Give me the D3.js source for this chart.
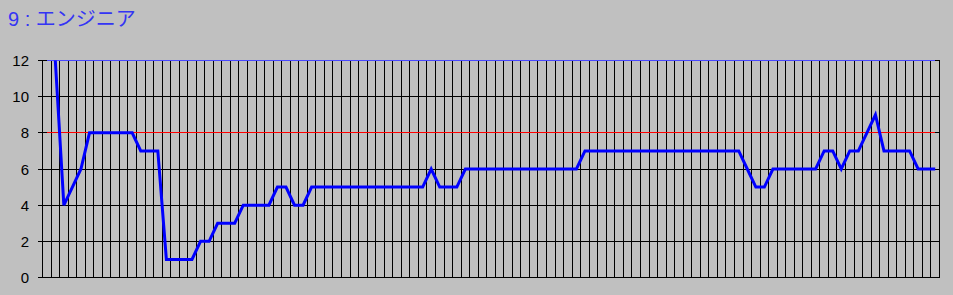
<!DOCTYPE html>
<html><head><meta charset="utf-8">
<script src="https://cdn.jsdelivr.net/npm/d3@7"></script>
<style>
html,body{margin:0;padding:0;background:#c0c0c0;}
svg{display:block;}
</style></head>
<body>
<svg id="chart" width="953" height="295"></svg>
<script>
const titleNumber = "9 : ";
const titleName = "エンジニア";
const yTicks = [0, 2, 4, 6, 8, 10, 12];
const values = [
  null, 12, 4, 5, 6, 8, 8, 8, 8, 8, 8,
  7, 7, 7, 1, 1, 1, 1, 2, 2, 3, 3, 3,
  4, 4, 4, 4, 5, 5, 4, 4,
  5, 5, 5, 5, 5, 5, 5, 5, 5, 5, 5, 5, 5, 5,
  6, 5, 5, 5,
  6, 6, 6, 6, 6, 6, 6, 6, 6, 6, 6, 6, 6, 6,
  7, 7, 7, 7, 7, 7, 7, 7, 7, 7, 7, 7, 7, 7, 7, 7, 7, 7, 7,
  6, 5, 5, 6, 6, 6, 6, 6, 6,
  7, 7, 6, 7, 7, 8, 9, 7, 7, 7, 7, 6, 6, 6
];
const upperLimit = 12;
const targetLine = 8;
const categories = values.map((d, i) => i);

const svg = d3.select("#chart");
const mLeft = 42.5, mRight = 939.5, mTop = 60.5, mBottom = 277.5;

const x = d3.scaleBand().domain(categories).range([mLeft, mRight]).paddingInner(0).paddingOuter(0);
const y = d3.scaleLinear().domain([0, 12]).range([mBottom, mTop]);
const cx = i => x(i) + x.bandwidth() / 2;
const py = v => Math.floor(y(v)) + 0.5;

// title
const t = svg.append("text")
  .attr("x", 8).attr("y", 26)
  .attr("font-size", 20)
  .attr("fill", "#3434f4")
  .attr("xml:space", "preserve")
  .style("white-space", "pre");
t.append("tspan").attr("font-family", "'Liberation Sans', Arial, sans-serif").text(titleNumber);
t.append("tspan").attr("font-family", "'Noto Sans CJK JP', sans-serif").text(titleName);

const g = svg.append("g");

// vertical gridlines (category boundaries)
const bounds = categories.map(i => x(i)).concat([mRight]);
g.selectAll("line.v").data(bounds).enter().append("line")
  .attr("x1", d => Math.floor(d) + 0.5).attr("x2", d => Math.floor(d) + 0.5)
  .attr("y1", mTop - 0.5).attr("y2", mBottom)
  .attr("stroke", "#000").attr("stroke-width", 1)
  .attr("shape-rendering", "crispEdges");

// horizontal gridlines + ticks
g.selectAll("line.h").data(yTicks).enter().append("line")
  .attr("x1", mLeft - 5).attr("x2", mRight)
  .attr("y1", d => py(d)).attr("y2", d => py(d))
  .attr("stroke", "#000").attr("stroke-width", 1)
  .attr("shape-rendering", "crispEdges");

// y labels
g.selectAll("text.yl").data(yTicks).enter().append("text")
  .attr("x", 29).attr("y", d => py(d))
  .attr("dy", "0.36em")
  .attr("text-anchor", "end")
  .attr("font-family", "'Liberation Sans', Arial, sans-serif")
  .attr("font-size", 15)
  .attr("fill", "#000")
  .text(d => d);

// upper limit line (12)
const flat = v => d3.line().x(i => cx(i)).y(() => py(v));
g.append("path").datum(categories)
  .attr("d", flat(upperLimit))
  .attr("fill", "none").attr("stroke", "#4848ff").attr("stroke-width", 1.5)
  .attr("shape-rendering", "crispEdges");

// target line (8)
g.append("path").datum(categories)
  .attr("d", flat(targetLine))
  .attr("fill", "none").attr("stroke", "#ff0000").attr("stroke-width", 1)
  .attr("shape-rendering", "crispEdges");

// data line
const line = d3.line()
  .defined(d => d != null)
  .x((d, i) => cx(i))
  .y(d => y(d));
g.append("path").datum(values)
  .attr("d", line)
  .attr("fill", "none").attr("stroke", "#0000ff").attr("stroke-width", 3)
  .attr("stroke-linejoin", "miter");
</script>
</body></html>
